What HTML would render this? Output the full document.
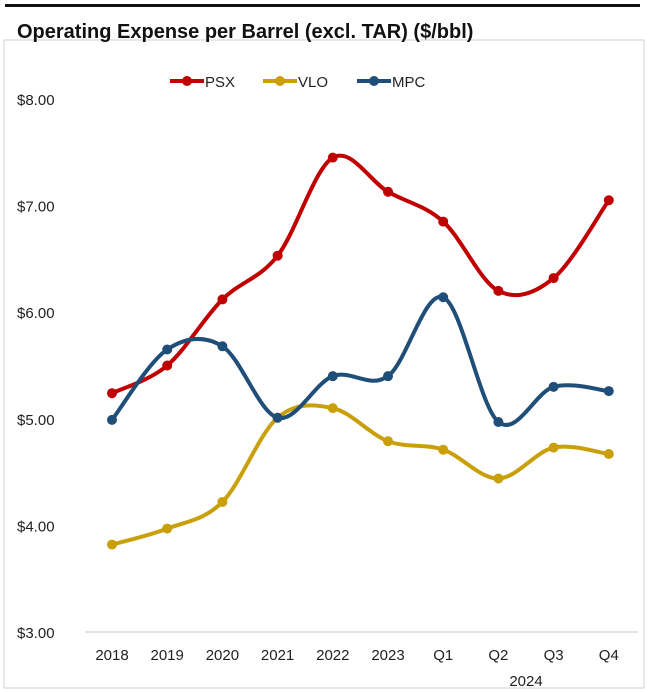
<!DOCTYPE html>
<html><head><meta charset="utf-8"><style>
body{margin:0;background:#fff;font-family:"Liberation Sans",Arial,sans-serif;}
#c{position:relative;width:650px;height:692px;overflow:hidden}
</style></head><body>
<div id="c">
<svg id="s" width="650" height="692" xmlns="http://www.w3.org/2000/svg">
<rect x="4" y="40" width="640" height="648" fill="none" stroke="#d0d0d0" stroke-width="1"/>
<rect x="5" y="4" width="635" height="3" fill="#111"/>
<text x="17" y="38" font-size="20" font-weight="bold" fill="#111">Operating Expense per Barrel (excl. TAR) ($/bbl)</text>
<g id="legend"></g>
<g id="axes"></g>
<g id="series"></g>
</svg></div>
<script>
const categories=["2018","2019","2020","2021","2022","2023","Q1","Q2","Q3","Q4"];
const psx=[5.24,5.50,6.12,6.53,7.45,7.13,6.85,6.20,6.32,7.05];
const vlo=[3.82,3.97,4.22,5.01,5.10,4.79,4.71,4.44,4.73,4.67];
const mpc=[4.99,5.65,5.68,5.01,5.40,5.40,6.14,4.97,5.30,5.26];
const yTicks=[3,4,5,6,7,8];
const yLabels=["$3.00","$4.00","$5.00","$6.00","$7.00","$8.00"];
const seriesNames=["PSX","VLO","MPC"];
const NS="http://www.w3.org/2000/svg";
function y(v){return 632-(v-3)*106.6;}
function x(i){return 112+i*55.2;}
function mk(t,a,p){const e=document.createElementNS(NS,t);for(const k in a)e.setAttribute(k,a[k]);p.appendChild(e);return e;}
const axes=document.getElementById('axes');
yTicks.forEach((t,i)=>{const e=mk('text',{x:17,y:y(t)+6,'font-size':15,fill:'#222'},axes);e.textContent=yLabels[i];

});
const ax=mk('line',{x1:85,x2:638,y1:632,y2:632,stroke:'#d9d9d9','stroke-width':1.5},axes);


categories.forEach((c,i)=>{const e=mk('text',{x:x(i),y:660,'font-size':15,fill:'#222','text-anchor':'middle'},axes);e.textContent=c;

});
const yr=mk('text',{x:x(7.5),y:686,'font-size':15,fill:'#222','text-anchor':'middle'},axes);yr.textContent="2024";


const colors=["#c00000","#c9a009","#1f4e79"];
const sg=document.getElementById('series');
[psx,vlo,mpc].forEach((d,si)=>{
 const P=d.map((v,i)=>[x(i),y(v)]);
 let p=`M${P[0][0]},${P[0][1]}`;const t=0.5/3*2;
 for(let i=0;i<P.length-1;i++){const p0=P[Math.max(0,i-1)],p1=P[i],p2=P[i+1],p3=P[Math.min(P.length-1,i+2)];
  const c1=[p1[0]+(p2[0]-p0[0])*t/2,p1[1]+(p2[1]-p0[1])*t/2],c2=[p2[0]-(p3[0]-p1[0])*t/2,p2[1]-(p3[1]-p1[1])*t/2];
  p+=` C${c1[0]},${c1[1]} ${c2[0]},${c2[1]} ${p2[0]},${p2[1]}`;}
 const l=mk('path',{d:p,fill:'none',stroke:colors[si],'stroke-width':4},sg);
 
 
 P.forEach(q=>{const c=mk('circle',{cx:q[0],cy:q[1],r:5,fill:colors[si]},sg);
 
 });
});
const lg=document.getElementById('legend');
const lx=[170,263,357];
seriesNames.forEach((n,i)=>{
 const g=mk('g',{},lg);
 
 
 mk('line',{x1:lx[i],x2:lx[i]+34,y1:81,y2:81,stroke:colors[i],'stroke-width':4},g);
 mk('circle',{cx:lx[i]+17,cy:81,r:5,fill:colors[i]},g);
 const t=mk('text',{x:lx[i]+35,y:87,'font-size':15,fill:'#222'},g);t.textContent=n;
});
</script>
</body></html>
